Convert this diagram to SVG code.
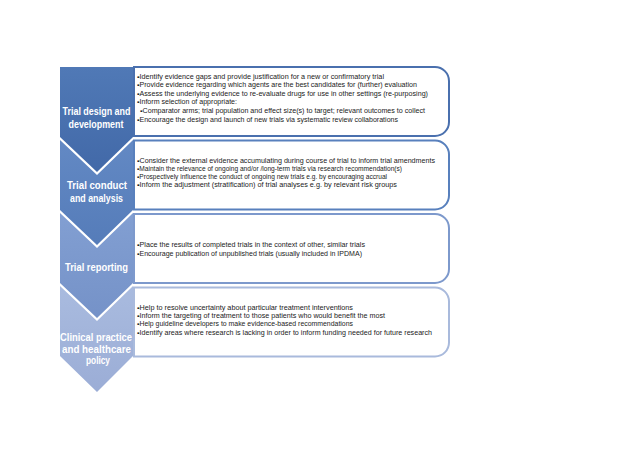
<svg xmlns="http://www.w3.org/2000/svg" width="640" height="452" viewBox="0 0 640 452">
<style>
.lab{font-family:"Liberation Sans",Arial,sans-serif;font-weight:bold;font-size:10.2px;fill:#fff;text-anchor:middle}
.t{font-family:"Liberation Sans",Arial,sans-serif;font-size:6.3px;fill:#1a1a1a}
.box{fill:#fff;stroke-width:2}
</style>
<defs>
<linearGradient id="g1" x1="0" y1="0" x2="0" y2="1"><stop offset="0" stop-color="#5079b6"/><stop offset="1" stop-color="#4269a8"/></linearGradient>
<linearGradient id="g2" x1="0" y1="0" x2="0" y2="1"><stop offset="0" stop-color="#6389c4"/><stop offset="1" stop-color="#557cb9"/></linearGradient>
<linearGradient id="g3" x1="0" y1="0" x2="0" y2="1"><stop offset="0" stop-color="#829fd2"/><stop offset="1" stop-color="#7592c8"/></linearGradient>
<linearGradient id="g4" x1="0" y1="0" x2="0" y2="1"><stop offset="0" stop-color="#a9bbdf"/><stop offset="1" stop-color="#9badd6"/></linearGradient>
</defs>
<rect width="640" height="452" fill="#fff"/>
<g id="connectors"></g>
<g id="stage1">
<path d="M60,67 H133 V137 L97,172 L60,137 Z" fill="url(#g1)"/>
<text class="lab" x="96.5" y="115" textLength="68" lengthAdjust="spacingAndGlyphs">Trial design and</text>
<text class="lab" x="96" y="127.5" textLength="55" lengthAdjust="spacingAndGlyphs">development</text>
<path class="box" stroke="#4a70ae" d="M134,67 H435 A14,14 0 0 1 449,81 V122 A14,14 0 0 1 435,136 H134 Z"/>
<text class="t" x="137" y="78.5" textLength="247" lengthAdjust="spacingAndGlyphs">▪Identify evidence gaps and provide justification for a new or confirmatory trial</text>
<text class="t" x="137" y="87.1" textLength="280" lengthAdjust="spacingAndGlyphs">▪Provide evidence regarding which agents are the best candidates for (further) evaluation</text>
<text class="t" x="137" y="95.7" textLength="291" lengthAdjust="spacingAndGlyphs">▪Assess the underlying evidence to re-evaluate drugs for use in other settings (re-purposing)</text>
<text class="t" x="137" y="104.3" textLength="100" lengthAdjust="spacingAndGlyphs">▪Inform selection of appropriate:</text>
<text class="t" x="140" y="112.9" textLength="285" lengthAdjust="spacingAndGlyphs">▪Comparator arms; trial population and effect size(s) to target; relevant outcomes to collect</text>
<text class="t" x="137" y="121.5" textLength="261" lengthAdjust="spacingAndGlyphs">▪Encourage the design and launch of new trials via systematic review collaborations</text>
</g>
<g id="stage2">
<path d="M60,140 L97,175 L133,140 V210 L97,245 L60,210 Z" fill="url(#g2)"/>
<text class="lab" x="97" y="189" textLength="60" lengthAdjust="spacingAndGlyphs">Trial conduct</text>
<text class="lab" x="96.5" y="201.5" textLength="53" lengthAdjust="spacingAndGlyphs">and analysis</text>
<path class="box" stroke="#5880bd" d="M134,140.5 H435 A14,14 0 0 1 449,154.5 V195.5 A14,14 0 0 1 435,209.5 H134 Z"/>
<text class="t" x="137" y="162.5" textLength="298" lengthAdjust="spacingAndGlyphs">▪Consider the external evidence accumulating during course of trial to inform trial amendments</text>
<text class="t" x="137" y="170.7" textLength="265" lengthAdjust="spacingAndGlyphs">▪Maintain the relevance of ongoing and/or /long-term trials via research recommendation(s)</text>
<text class="t" x="137" y="178.9" textLength="250" lengthAdjust="spacingAndGlyphs">▪Prospectively influence the conduct of ongoing new trials e.g. by encouraging accrual</text>
<text class="t" x="137" y="187.1" textLength="260" lengthAdjust="spacingAndGlyphs">▪Inform the adjustment (stratification) of trial analyses e.g. by relevant risk groups</text>
</g>
<g id="stage3">
<path d="M60,213 L97,248 L133,213 V283 L97,318 L60,283 Z" fill="url(#g3)"/>
<text class="lab" x="96.5" y="271" textLength="63" lengthAdjust="spacingAndGlyphs">Trial reporting</text>
<path class="box" stroke="#7d99cc" d="M134,214 H435 A14,14 0 0 1 449,228 V269 A14,14 0 0 1 435,283 H134 Z"/>
<text class="t" x="137" y="247" textLength="228" lengthAdjust="spacingAndGlyphs">▪Place the results of completed trials in the context of other, similar trials</text>
<text class="t" x="137" y="256" textLength="225" lengthAdjust="spacingAndGlyphs">▪Encourage publication of unpublished trials (usually included in IPDMA)</text>
</g>
<g id="stage4">
<path d="M60,286 L97,321 L133,286 V356 L97,392 L60,356 Z" fill="url(#g4)"/>
<text class="lab" x="96" y="341" textLength="72" lengthAdjust="spacingAndGlyphs">Clinical practice</text>
<text class="lab" x="96.5" y="352.5" textLength="69" lengthAdjust="spacingAndGlyphs">and healthcare</text>
<text class="lab" x="98" y="364" textLength="24" lengthAdjust="spacingAndGlyphs">policy</text>
<path class="box" stroke="#a9badc" d="M134,287.5 H435 A14,14 0 0 1 449,301.5 V342.5 A14,14 0 0 1 435,356.5 H134 Z"/>
<text class="t" x="137" y="309.5" textLength="216" lengthAdjust="spacingAndGlyphs">▪Help to resolve uncertainty about particular treatment interventions</text>
<text class="t" x="137" y="317.9" textLength="248" lengthAdjust="spacingAndGlyphs">▪Inform the targeting of treatment to those patients who would benefit the most</text>
<text class="t" x="137" y="326.3" textLength="216" lengthAdjust="spacingAndGlyphs">▪Help guideline developers to make evidence-based recommendations</text>
<text class="t" x="137" y="334.7" textLength="295" lengthAdjust="spacingAndGlyphs">▪Identify areas where research is lacking in order to inform funding needed for future research</text>
</g>
</svg>
